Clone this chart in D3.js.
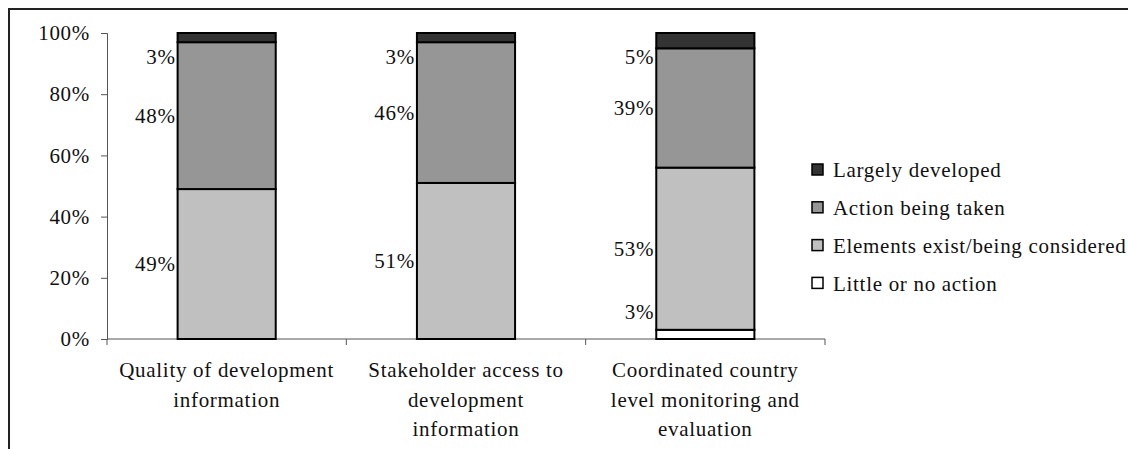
<!doctype html>
<meta charset="utf-8">
<style>
body {
  margin: 0;
  background: #fff;
  font-family: "Liberation Serif", "Times New Roman", serif;
}
svg text {
  font-family: "Liberation Serif", "Times New Roman", serif;
  font-size: 21px;
  letter-spacing: 0.7px;
  fill: #111;
}
</style>
<script src="https://cdn.jsdelivr.net/npm/d3@7"></script>
<body>

<script>

var w = 1128, h = 449;

// data
var categories = [
  ["Quality of development", "information"],
  ["Stakeholder access to", "development", "information"],
  ["Coordinated country", "level monitoring and", "evaluation"]
];
var series = ["Little or no action", "Elements exist/being considered", "Action being taken", "Largely developed"];
var little = [0, 0, 3];
var elements = [49, 51, 53];
var action = [48, 46, 39];
var largely = [3, 3, 5];
var yTicks = [0, 20, 40, 60, 80, 100];

var colors = ["#ffffff", "#c0c0c0", "#969696", "#333333"];

var rows = categories.map(function(c, i) {
  return {i: i, little: little[i], elements: elements[i], action: action[i], largely: largely[i]};
});
var keys = ["little", "elements", "action", "largely"];
var stacked = d3.stack().keys(keys)(rows);

var svg = d3.select("body")
  .append("svg")
    .attr("width", w)
    .attr("height", h)
    .style("display", "block");

// outer frame (runs off the right and bottom)
svg.append("rect")
    .attr("x", 9)
    .attr("y", 9)
    .attr("width", w)
    .attr("height", h)
    .style("fill", "none")
    .style("stroke", "#222")
    .style("stroke-width", 2);

var plotL = 107, plotR = 825, plotT = 33, plotB = 339;

var x = d3.scaleBand()
    .domain(d3.range(categories.length))
    .range([plotL, plotR])
    .paddingInner(0)
    .paddingOuter(0);

var y = d3.scaleLinear()
    .domain([0, 100])
    .range([plotB, plotT]);

var barW = x.bandwidth() * 0.41;

// y axis
var yAxis = svg.append("g")
    .attr("transform", "translate(" + plotL + ",0)")
    .call(d3.axisLeft(y).tickValues(yTicks).tickSize(6).tickPadding(11)
      .tickFormat(function(d) { return d + "%"; }));
yAxis.select(".domain").style("stroke", "#555");
yAxis.selectAll(".tick line").style("stroke", "#555");
yAxis.selectAll(".tick text")
    .attr("font-family", null)
    .attr("font-size", null);

// x axis: ticks at the band edges
var xAxis = svg.append("g")
    .attr("transform", "translate(0," + plotB + ")");
xAxis.append("line")
    .attr("x1", plotL).attr("x2", plotR)
    .style("stroke", "#555");
xAxis.selectAll("line.tk")
  .data(d3.range(categories.length + 1))
  .enter().append("line")
    .attr("class", "tk")
    .attr("x1", function(d) { return d < categories.length ? x(d) : x(d - 1) + x.bandwidth(); })
    .attr("x2", function(d) { return d < categories.length ? x(d) : x(d - 1) + x.bandwidth(); })
    .attr("y1", 0).attr("y2", 6)
    .style("stroke", "#555");

xAxis.selectAll("text.cat")
  .data(categories)
  .enter().append("text")
    .attr("class", "cat")
    .attr("x", function(d, i) { return x(i) + x.bandwidth() / 2; })
    .attr("y", 38)
    .style("text-anchor", "middle")
  .selectAll("tspan")
  .data(function(d) { return d; })
  .enter().append("tspan")
    .attr("x", function() { return d3.select(this.parentNode).attr("x"); })
    .attr("dy", function(d, i) { return i ? 29.5 : 0; })
    .text(function(d) { return d; });

// bars
var layer = svg.selectAll("g.layer")
  .data(stacked)
  .enter().append("g")
    .attr("class", "layer");

layer.selectAll("rect")
  .data(function(d) { return d.filter(function(s) { return s[1] - s[0] > 0; }); })
  .enter().append("rect")
    .attr("x", function(d) { return x(d.data.i) + (x.bandwidth() - barW) / 2; })
    .attr("y", function(d) { return y(d[1]); })
    .attr("width", barW)
    .attr("height", function(d) { return y(d[0]) - y(d[1]); })
    .style("fill", function() { return colors[keys.indexOf(d3.select(this.parentNode).datum().key)]; })
    .style("stroke", "#000")
    .style("stroke-width", 2);

// value labels left of the bars, small ones nudged inside the bar's extent
layer.selectAll("text")
  .data(function(d) { return d.filter(function(s) { return s[1] - s[0] > 0; }); })
  .enter().append("text")
    .attr("x", function(d) { return x(d.data.i) + (x.bandwidth() - barW) / 2 - 2; })
    .attr("y", function(d) {
      var m = (y(d[0]) + y(d[1])) / 2;
      m = Math.max(m, y(100) + 24);
      m = Math.min(m, y(0) - 27);
      return m;
    })
    .attr("dy", "0.35em")
    .style("text-anchor", "end")
    .text(function(d) { return (d[1] - d[0]) + "%"; });

// legend, top series first
var legend = svg.selectAll("g.legend")
  .data(series.slice().reverse())
  .enter().append("g")
    .attr("class", "legend")
    .attr("transform", function(d, i) { return "translate(812," + (170 + i * 37.8) + ")"; });

legend.append("rect")
    .attr("x", 0)
    .attr("y", -6)
    .attr("width", 11)
    .attr("height", 11)
    .style("fill", function(d, i) { return colors[3 - i]; })
    .style("stroke", "#000")
    .style("stroke-width", 1.5);

legend.append("text")
    .attr("x", 21)
    .attr("dy", "0.35em")
    .text(function(d) { return d; });

</script>
